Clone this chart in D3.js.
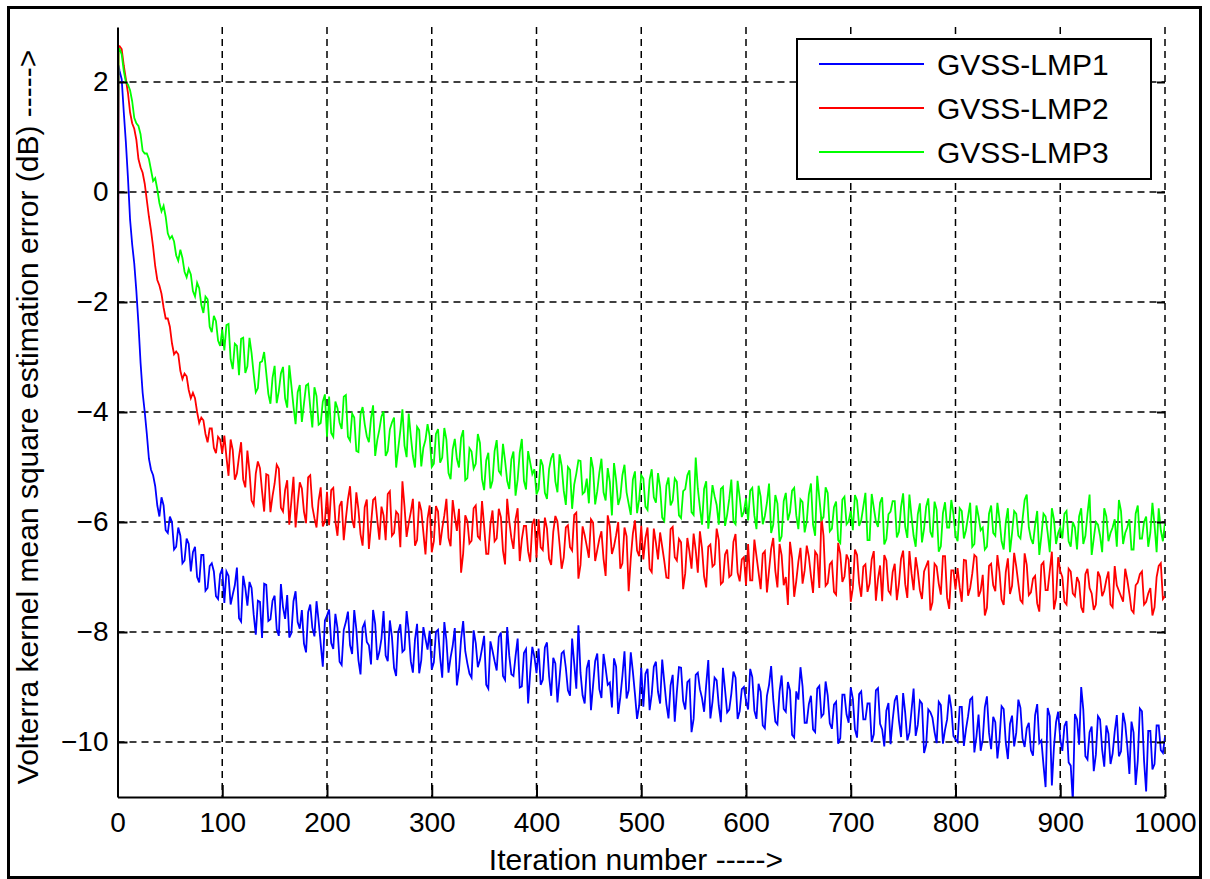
<!DOCTYPE html>
<html><head><meta charset="utf-8">
<script src="https://cdn.jsdelivr.net/npm/d3@7"></script>
<style>
body{margin:0;background:#fff;}
svg{display:block;}
text{font-family:"Liberation Sans", Arial, Helvetica, sans-serif;fill:#000;}
</style>
</head><body>
<svg id="chart" width="1210" height="879"></svg>
<script>
// ---------- data ----------
// samples at iterations 0, 1, 4, 8, ..., 1000
const iterationsMain = [0, 1].concat(d3.range(4, 1001, 4));
// extra samples at iterations 2, 6, 10, ..., 998
const iterationsMid = d3.range(2, 1000, 4);
const seriesNames = ["GVSS-LMP1", "GVSS-LMP2", "GVSS-LMP3"];
const seriesColors = ["#0000ff", "#ff0000", "#00ff00"];

const lmp1 = [-8.0, 2.3,
 2.05, 0.9, -0.5, -1.3, -2.4, -3.65, -4.4, -5.05, -5.35, -5.9, -5.7, -6.2, -6.0, -6.45, -6.25, -6.7, -6.4, -6.55, -7.0, -6.6, -7.25, -6.8, -6.9, -7.4, -6.85,
 -6.9, -7.5, -7.15, -7.75, -6.98, -7.52, -7.2, -8.05, -7.45, -7.12, -7.8, -7.43, -7.95, -7.13, -7.76, -8.1, -7.44, -7.82, -7.6, -8.37, -7.5, -8.08, -7.8, -8.63, -7.7,
 -8.2, -7.67, -8.54, -7.96, -7.63, -8.4, -7.95, -8.77, -7.83, -8.24, -7.6, -8.51, -8.12, -8.43, -7.79, -8.65, -8.0, -8.36, -7.62, -8.53, -8.14, -8.75, -7.91, -8.32, -8.68,
 -8.0, -8.46, -7.82, -8.74, -8.25, -8.97, -8.13, -8.35, -8.76, -7.97, -8.64, -8.3, -8.96, -8.17, -8.53, -8.09, -8.8, -7.91, -8.77, -8.44, -9.01, -8.38, -9.3, -8.27, -8.75,
 -8.96, -8.28, -8.8, -8.47, -9.28, -8.39, -8.65, -9.16, -8.57, -7.88, -9.15, -8.66, -9.42, -8.53, -9.04, -8.4, -8.96, -9.37, -8.63, -9.19, -8.35, -9.06, -8.72, -9.58, -8.65,
 -8.76, -9.42, -8.63, -9.09, -8.5, -9.31, -8.97, -9.63, -8.64, -9.25, -8.91, -9.82, -8.78, -9.04, -9.45, -8.51, -9.27, -8.88, -9.64, -9.05, -9.41, -8.72, -9.58, -9.04, -9.25,
 -8.67, -9.43, -8.94, -9.7, -9.16, -8.62, -9.63, -9.09, -9.4, -8.91, -9.87, -9.08, -8.64, -9.65, -9.31, -9.77, -9.03, -9.54, -8.9, -9.66, -9.32, -10.03, -9.14, -9.5, -9.01,
 -9.77, -9.13, -9.59, -9.3, -10.0, -9.06, -9.67, -10.08, -9.29, -9.6, -9.15, -9.91, -9.47, -9.83, -9.03, -9.69, -9.3, -10.05, -9.46, -9.82, -9.27, -10.03, -9.59, -9.39, -9.95,
 -9.36, -10.07, -9.53, -9.19, -9.9, -10.16, -9.37, -9.83, -9.54, -10.3, -9.35, -10.01, -9.67, -10.08, -9.23, -9.94, -9.75, -10.15, -9.51, -10.02, -10.42, -9.38, -10.79, -9.64, -9.95,
 -9.71, -10.37, -11.08, -9.59, -9.0, -10.26, -9.82, -10.53, -9.53, -10.14, -9.7, -10.4, -9.81, -10.26, -9.47, -10.07, -9.63, -10.78, -9.39, -10.34, -9.8, -10.5, -9.7, -10.15, -9.9];
const lmp1Mid = [
 2.2, 1.45, 0.25, -0.95, -1.8, -3.1, -4.0, -4.85, -5.15, -5.7, -5.55, -6.15, -5.9, -6.5, -6.1, -6.75, -6.3, -6.9, -6.45, -7.1, -6.6, -7.2, -6.75, -7.35, -6.95,
 -7.47, -6.98, -7.32, -6.83, -7.81, -7.2, -7.09, -7.68, -7.43, -8.11, -7.14, -7.77, -7.34, -8.07, -7.55, -7.33, -8.02, -7.26, -7.94, -8.21, -7.64, -7.92, -7.44, -8.22, -7.79,
 -7.59, -8.31, -7.93, -8.6, -7.82, -8.24, -7.6, -8.51, -7.92, -8.18, -8.59, -7.85, -8.36, -7.62, -8.53, -8.09, -8.8, -7.86, -8.32, -7.98, -8.74, -7.85, -8.51, -8.12, -7.98,
 -8.55, -7.96, -8.83, -8.15, -8.46, -7.93, -8.69, -7.8, -8.57, -8.83, -8.2, -8.51, -8.07, -9.03, -8.34, -8.7, -8.01, -8.87, -8.43, -8.8, -8.12, -8.99, -8.31, -8.73, -8.45,
 -8.3, -8.87, -8.19, -9.16, -8.57, -8.84, -8.35, -9.06, -8.12, -9.03, -8.74, -9.3, -8.51, -8.97, -8.39, -9.2, -8.66, -8.92, -8.48, -9.49, -8.8, -9.21, -8.37, -9.13, -9.34,
 -9.36, -8.67, -9.13, -8.54, -9.3, -8.91, -9.57, -8.78, -9.09, -8.65, -9.41, -8.87, -9.58, -8.74, -9.2, -8.96, -9.57, -8.83, -9.34, -8.65, -9.46, -9.12, -8.83, -9.44, -9.0,
 -9.41, -8.82, -9.58, -9.09, -9.75, -8.96, -9.22, -9.68, -8.79, -9.45, -9.06, -9.92, -9.23, -8.99, -9.65, -9.16, -9.82, -8.98, -9.49, -9.15, -9.76, -9.27, -9.93, -9.14, -9.65,
 -9.21, -9.92, -9.08, -9.59, -9.3, -9.86, -9.02, -9.77, -9.43, -10.04, -9.25, -9.61, -9.11, -9.97, -9.43, -9.89, -9.25, -10.2, -9.41, -9.56, -10.02, -9.33, -9.78, -9.14, -9.89,
 -10.0, -9.36, -9.77, -9.23, -10.19, -9.5, -9.96, -9.17, -10.13, -9.64, -9.95, -9.4, -10.31, -9.52, -9.83, -9.38, -10.09, -9.65, -10.25, -9.31, -9.97, -10.82, -9.53, -10.09, -9.45,
 -10.16, -9.62, -10.43, -9.49, -10.05, -9.41, -10.32, -9.72, -10.23, -9.59, -10.45, -9.85, -10.21, -9.51, -10.17, -9.67, -10.58, -9.83, -10.34, -9.44, -10.9, -9.8, -10.4, -9.7, -10.2];

const lmp2 = [-9.0, 2.65,
 2.6, 2.05, 1.45, 1.15, 0.6, 0.35, -0.15, -0.7, -1.35, -1.7, -2.1, -2.3, -2.75, -2.9, -3.25, -3.3, -3.6, -3.65, -4.0, -4.1, -4.4, -4.3, -4.65, -4.45, -4.75,
 -4.82, -4.5, -5.23, -4.81, -5.23, -4.7, -5.61, -5.12, -5.02, -5.81, -5.15, -5.53, -4.96, -5.74, -5.42, -6.05, -5.18, -5.66, -5.39, -6.02, -5.15, -5.93, -5.61, -6.08, -5.45,
 -5.42, -5.99, -5.71, -6.33, -5.59, -5.95, -5.46, -6.22, -5.73, -6.49, -5.6, -5.96, -5.72, -6.33, -5.44, -6.2, -5.86, -5.26, -6.27, -5.82, -6.43, -5.63, -6.19, -5.94, -6.55,
 -5.71, -6.42, -5.88, -6.29, -5.6, -6.16, -6.92, -5.88, -6.39, -5.75, -6.26, -5.62, -6.58, -6.04, -6.35, -5.76, -6.52, -5.58, -6.29, -5.95, -6.71, -6.07, -6.53, -6.04, -6.65,
 -6.46, -5.92, -6.67, -6.18, -5.99, -6.85, -6.1, -6.46, -5.87, -7.03, -6.08, -6.44, -5.95, -6.71, -6.31, -6.67, -5.88, -6.58, -6.24, -6.85, -6.1, -7.26, -6.21, -6.52, -6.07,
 -6.29, -6.85, -6.12, -6.68, -6.45, -7.01, -6.13, -6.64, -6.31, -7.22, -6.29, -6.85, -6.51, -6.17, -6.99, -6.45, -6.81, -6.12, -7.13, -6.59, -7.0, -6.36, -6.92, -6.68, -7.15,
 -7.06, -6.32, -6.92, -6.58, -7.28, -6.49, -6.89, -6.4, -7.15, -7.51, -6.66, -7.07, -6.47, -6.88, -6.63, -7.29, -6.6, -5.9, -7.16, -6.77, -7.27, -6.38, -7.09, -6.59, -7.45,
 -6.5, -7.11, -6.81, -7.27, -6.68, -7.43, -6.79, -6.6, -7.25, -6.91, -7.42, -6.67, -7.13, -6.53, -7.24, -6.89, -7.4, -6.8, -7.61, -6.76, -7.12, -6.62, -7.38, -6.88, -7.23,
 -7.19, -6.69, -7.34, -6.94, -6.64, -7.25, -7.7, -6.8, -7.15, -6.6, -7.41, -6.91, -7.31, -6.56, -7.12, -7.47, -6.78, -7.28, -6.98, -7.63, -6.73, -7.24, -6.54, -7.39, -6.89,
 -7.45, -6.85, -7.3, -7.0, -7.55, -6.95, -7.2, -7.6, -6.9, -7.35, -7.05, -7.5, -6.8, -7.25, -7.45, -7.05, -7.6, -7.15, -6.95, -7.5, -7.3, -7.7, -7.0, -6.75, -7.35];
const lmp2Mid = [
 2.65, 2.3, 1.8, 1.25, 0.95, 0.45, 0.15, -0.45, -1.0, -1.6, -1.85, -2.3, -2.45, -2.95, -2.95, -3.4, -3.35, -3.75, -3.75, -4.2, -4.15, -4.55, -4.3, -4.75, -4.5,
 -4.43, -5.16, -4.69, -5.12, -4.55, -5.37, -5.08, -5.69, -4.9, -5.44, -5.13, -5.82, -5.3, -5.03, -5.81, -5.24, -5.62, -6.1, -5.28, -5.81, -5.19, -5.72, -6.1, -5.37, -5.99,
 -6.06, -5.38, -6.25, -5.62, -5.94, -5.35, -6.11, -5.77, -6.43, -5.59, -6.05, -5.56, -6.32, -5.88, -5.49, -6.25, -5.81, -6.46, -5.72, -6.02, -5.58, -6.33, -5.79, -6.59, -5.7,
 -6.35, -5.81, -6.12, -5.58, -6.44, -5.9, -5.76, -6.57, -5.98, -6.34, -5.7, -6.31, -6.07, -6.58, -5.79, -6.3, -5.91, -6.77, -5.98, -6.49, -5.75, -6.31, -6.07, -6.73, -5.94,
 -5.95, -6.51, -6.12, -6.78, -5.89, -6.4, -6.65, -6.06, -6.52, -5.83, -6.78, -6.24, -6.65, -6.01, -6.51, -6.17, -6.98, -6.08, -6.44, -6.0, -6.75, -6.26, -6.66, -5.97, -6.62,
 -6.68, -6.1, -6.91, -6.38, -6.19, -6.71, -7.02, -6.09, -6.7, -6.37, -6.93, -6.54, -6.21, -6.92, -6.48, -7.19, -6.41, -6.77, -6.33, -7.09, -6.5, -6.96, -6.22, -7.08, -6.64,
 -6.4, -7.06, -6.62, -7.22, -6.53, -6.88, -6.29, -7.19, -6.6, -7.0, -6.36, -7.36, -6.72, -7.12, -6.43, -6.98, -6.54, -7.2, -6.25, -7.11, -6.72, -7.32, -6.58, -6.99, -6.69,
 -7.2, -6.6, -7.36, -6.77, -7.12, -6.53, -7.04, -7.44, -6.7, -7.31, -6.76, -7.12, -6.52, -7.38, -6.93, -6.64, -7.24, -6.9, -6.7, -7.46, -6.81, -7.32, -6.62, -7.58, -6.88,
 -6.84, -7.45, -6.7, -7.2, -6.6, -7.36, -6.96, -7.56, -6.76, -7.26, -6.91, -7.51, -6.66, -7.16, -6.81, -7.42, -6.57, -7.33, -7.03, -7.48, -6.78, -7.24, -6.89, -7.59, -6.64,
 -7.0, -7.5, -6.9, -7.35, -7.1, -7.65, -6.85, -7.3, -7.5, -7.0, -7.25, -6.9, -7.55, -7.15, -7.35, -6.85, -7.3, -7.65, -7.1, -6.9, -7.45, -7.2, -7.55, -6.8, -7.4];

const lmp3 = [-1.5, 2.6,
 2.5, 2.0, 1.85, 1.35, 1.2, 0.75, 0.7, 0.4, 0.25, -0.2, -0.25, -0.75, -0.8, -1.15, -1.05, -1.45, -1.4, -1.8, -1.65, -2.05, -1.9, -2.45, -2.25, -2.7, -2.5,
 -2.42, -3.04, -2.76, -3.33, -2.65, -3.17, -2.93, -3.64, -3.1, -2.91, -3.67, -3.38, -3.84, -3.3, -3.75, -3.15, -3.9, -3.64, -4.18, -3.52, -3.91, -3.55, -4.23, -3.81, -4.45,
 -4.38, -3.81, -4.19, -3.72, -4.45, -4.03, -4.71, -4.04, -4.22, -4.55, -3.88, -4.51, -4.08, -4.8, -4.32, -4.1, -4.67, -3.95, -4.82, -4.44, -5.01, -4.33, -4.65, -4.22, -5.0,
 -4.4, -4.92, -4.29, -5.11, -4.68, -4.85, -4.47, -5.24, -4.66, -5.03, -4.4, -5.22, -4.88, -5.39, -4.71, -5.07, -4.58, -5.25, -4.86, -5.52, -4.74, -5.25, -4.71, -5.13, -5.5,
 -4.86, -5.47, -5.04, -4.75, -5.46, -4.98, -5.69, -5.05, -5.32, -4.88, -5.49, -5.21, -4.82, -5.68, -5.1, -5.46, -5.02, -5.88, -5.24, -5.55, -4.96, -5.67, -5.23, -5.84, -5.15,
 -5.72, -5.23, -5.55, -5.11, -5.92, -5.34, -5.7, -5.21, -5.88, -5.44, -5.15, -5.82, -4.83, -5.74, -5.4, -6.12, -5.33, -5.69, -5.4, -6.07, -5.58, -5.99, -5.25, -5.91, -5.57,
 -5.43, -5.88, -5.34, -6.04, -5.65, -6.2, -5.51, -6.36, -5.62, -5.97, -5.43, -5.88, -5.59, -6.19, -5.5, -6.05, -5.16, -5.96, -5.37, -6.17, -5.73, -6.33, -5.59, -6.04, -5.8,
 -5.51, -6.07, -5.72, -6.33, -5.49, -5.99, -5.65, -6.41, -5.86, -5.62, -6.28, -5.73, -6.09, -5.5, -6.25, -5.86, -6.37, -5.72, -6.18, -5.63, -6.54, -5.84, -6.1, -5.6, -6.25,
 -5.75, -6.3, -5.9, -6.45, -5.7, -6.15, -6.5, -5.85, -6.2, -5.65, -6.35, -6.0, -6.55, -5.8, -6.25, -5.95, -5.5, -6.3, -6.05, -6.6, -5.85, -6.2, -5.75, -6.4, -6.1,
 -5.85, -6.35, -6.0, -6.5, -5.75, -6.25, -5.5, -6.3, -6.05, -6.55, -5.9, -6.2, -5.95, -5.6, -6.4, -6.1, -6.5, -5.85, -6.3, -6.0, -6.45, -5.65, -6.55, -6.15, -6.0];
const lmp3Mid = [
 2.6, 2.2, 1.95, 1.65, 1.25, 1.05, 0.7, 0.6, 0.2, 0.05, -0.35, -0.45, -0.85, -0.9, -1.25, -1.2, -1.55, -1.5, -1.9, -1.75, -2.2, -1.95, -2.55, -2.35, -2.8,
 -2.88, -2.4, -3.22, -2.8, -2.67, -3.29, -2.65, -3.31, -3.57, -3.08, -3.29, -3.85, -3.16, -3.62, -3.18, -3.92, -3.52, -4.22, -3.51, -3.85, -3.49, -4.28, -3.71, -4.2, -3.68,
 -3.72, -4.45, -3.93, -4.31, -3.69, -4.52, -4.1, -4.73, -3.91, -4.44, -4.12, -4.8, -4.32, -3.99, -4.71, -4.19, -5.01, -4.34, -4.61, -4.03, -4.8, -4.27, -4.99, -4.51, -4.44,
 -4.94, -4.31, -4.83, -4.5, -5.22, -4.49, -5.01, -4.33, -5.2, -4.72, -4.94, -4.56, -5.42, -4.74, -5.25, -4.51, -5.13, -4.89, -5.4, -4.72, -5.23, -4.49, -5.41, -4.92, -5.04,
 -5.4, -4.97, -5.58, -4.84, -5.26, -4.77, -5.43, -5.0, -5.76, -5.12, -4.89, -5.45, -5.66, -5.03, -5.44, -4.85, -5.61, -5.27, -4.93, -5.69, -5.15, -5.46, -5.87, -5.08, -5.59,
 -5.21, -5.78, -5.04, -5.65, -5.37, -5.98, -5.19, -5.61, -5.27, -5.93, -5.4, -5.06, -5.87, -5.39, -6.05, -5.26, -5.77, -5.53, -6.05, -5.36, -5.87, -5.23, -6.04, -5.55, -5.81,
 -5.97, -5.38, -6.13, -5.54, -5.89, -5.3, -6.05, -5.66, -6.26, -5.47, -5.82, -5.38, -6.13, -5.64, -5.99, -5.3, -6.25, -5.56, -5.91, -5.47, -6.12, -5.63, -6.38, -5.54, -5.99,
 -6.15, -5.61, -5.97, -5.47, -6.33, -5.74, -6.09, -5.55, -6.31, -5.81, -5.62, -6.18, -5.48, -6.29, -5.9, -6.45, -5.66, -6.12, -5.57, -6.28, -5.78, -6.44, -5.64, -6.1, -5.85,
 -6.35, -5.8, -6.15, -5.65, -6.4, -5.9, -6.1, -6.45, -5.7, -6.25, -5.95, -6.5, -5.75, -6.2, -5.85, -6.3, -5.6, -6.1, -6.4, -5.8, -6.25, -5.9, -6.55, -5.95, -6.2,
 -6.3, -5.8, -6.45, -6.1, -5.9, -6.4, -5.85, -6.6, -6.0, -6.25, -5.75, -6.35, -6.1, -6.45, -5.8, -6.2, -5.95, -6.5, -5.7, -6.3, -5.9, -6.2, -6.05, -5.75, -6.35];

const xTicks = [0, 100, 200, 300, 400, 500, 600, 700, 800, 900, 1000];
const yTicks = [-10, -8, -6, -4, -2, 0, 2];
const xLabel = "Iteration number ----->";
const yLabel = "Volterra kernel mean square estimation error (dB) ----->";

// build point tables (main + mid samples, ordered by iteration)
function buildPoints(main, mid) {
  const pts = iterationsMain.map((it, i) => ({it, v: main[i]}))
    .concat(iterationsMid.map((it, i) => ({it, v: mid[i]})));
  return pts.sort((a, b) => a.it - b.it);
}
const seriesPoints = [buildPoints(lmp1, lmp1Mid), buildPoints(lmp2, lmp2Mid), buildPoints(lmp3, lmp3Mid)];

// ---------- drawing ----------
const svg = d3.select("#chart");
const x = d3.scaleLinear().domain([0, 1000]).range([117.5, 1165]);
const y = d3.scaleLinear().domain([-11, 3]).range([797, 27]);

svg.append("rect").attr("x", 8.5).attr("y", 7.5).attr("width", 1192).attr("height", 870)
  .attr("fill", "#fff").attr("stroke", "#000").attr("stroke-width", 3);

const grid = svg.append("g").attr("stroke", "#000").attr("stroke-width", 1.5)
  .attr("stroke-dasharray", "7,5").attr("fill", "none");
xTicks.filter(t => t !== 0).forEach(t => {
  grid.append("line").attr("x1", x(t)).attr("x2", x(t)).attr("y1", y(3)).attr("y2", y(-11));
});
yTicks.forEach(t => {
  grid.append("line").attr("x1", x(0)).attr("x2", x(1000)).attr("y1", y(t)).attr("y2", y(t));
});

svg.append("clipPath").attr("id", "plotclip").append("rect")
  .attr("x", x(0)).attr("y", y(3)).attr("width", x(1000) - x(0)).attr("height", y(-11) - y(3));
const line = d3.line().x(d => x(d.it)).y(d => y(d.v));
const plot = svg.append("g").attr("clip-path", "url(#plotclip)");
seriesPoints.forEach((pts, k) => {
  plot.append("path").attr("d", line(pts)).attr("fill", "none")
    .attr("stroke", seriesColors[k]).attr("stroke-width", 1.8).attr("stroke-linejoin", "miter");
});

const fmt = d3.format("d");
const gx = svg.append("g").attr("transform", `translate(0,${y(-11)})`)
  .call(d3.axisBottom(x).tickValues(xTicks).tickSize(-12).tickSizeOuter(0).tickPadding(15).tickFormat(fmt));
const gy = svg.append("g").attr("transform", `translate(${x(0)},0)`)
  .call(d3.axisLeft(y).tickValues(yTicks).tickSize(-10).tickSizeOuter(0).tickPadding(9).tickFormat(fmt));
const gr = svg.append("g").attr("transform", `translate(${x(1000)},0)`)
  .call(d3.axisRight(y).tickValues(yTicks).tickSize(-8).tickSizeOuter(0).tickFormat(""));
gr.select(".domain").remove();
[gx, gy, gr].forEach(g => {
  g.selectAll(".domain").attr("stroke", "#000").attr("stroke-width", 2);
  g.selectAll(".tick line").attr("stroke", "#000").attr("stroke-width", 2);
  g.selectAll(".tick text").attr("font-size", 28).attr("font-family", "Liberation Sans, Arial, sans-serif").attr("fill", "#000");
});
gx.selectAll(".tick text").attr("dy", "0.72em");

svg.append("text").attr("x", 636).attr("y", 870).attr("text-anchor", "middle")
  .attr("font-size", 30).text(xLabel);
svg.append("text").attr("transform", `translate(38,417) rotate(-90)`)
  .attr("text-anchor", "middle").attr("font-size", 30).text(yLabel);

const lg = svg.append("g");
lg.append("rect").attr("x", 797).attr("y", 39).attr("width", 354).attr("height", 140)
  .attr("fill", "#fff").attr("stroke", "#000").attr("stroke-width", 2);
const legendRows = [64, 108, 152];
seriesNames.forEach((n, k) => {
  lg.append("line").attr("x1", 819).attr("x2", 924).attr("y1", legendRows[k]).attr("y2", legendRows[k])
    .attr("stroke", seriesColors[k]).attr("stroke-width", 1.8);
  lg.append("text").attr("x", 937).attr("y", legendRows[k] + 11).attr("font-size", 30).text(n);
});
</script>
</body></html>
